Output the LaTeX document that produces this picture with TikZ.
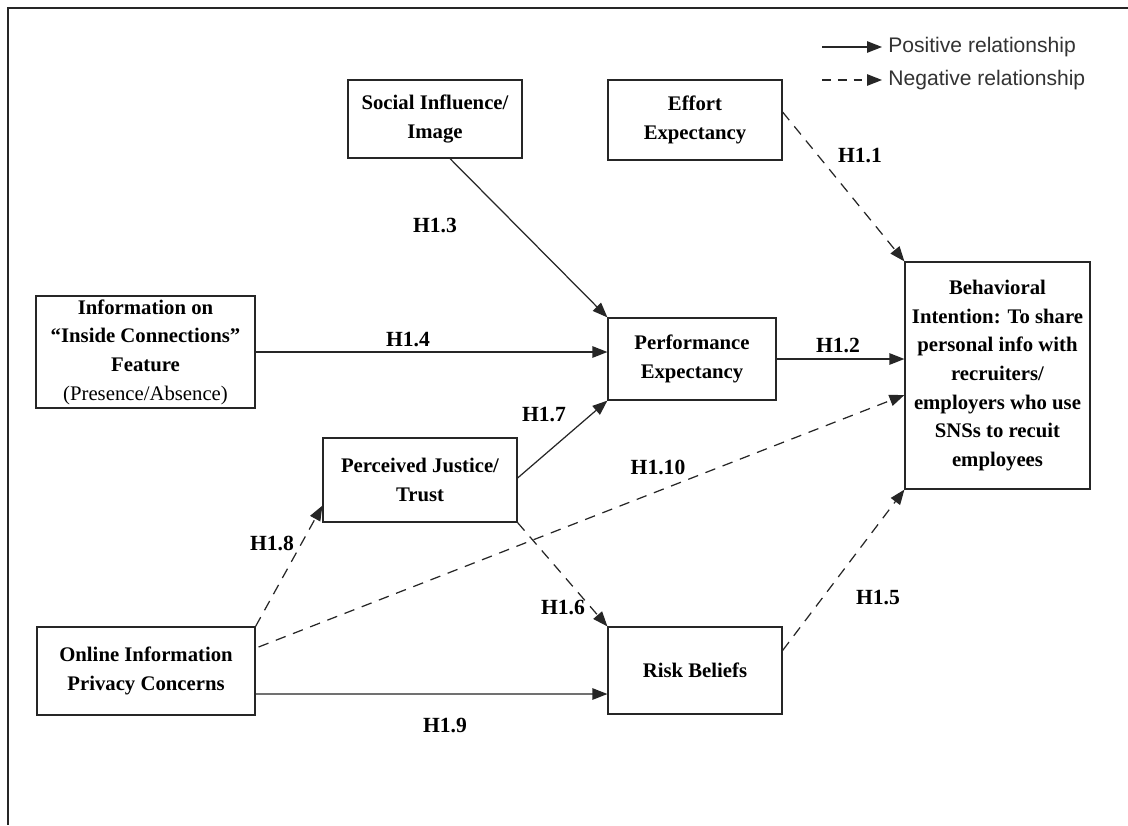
\documentclass[tikz,border=0pt]{standalone}
\usepackage{fontspec}
\setmainfont{Liberation Serif}
\setsansfont{Liberation Sans}
\usetikzlibrary{arrows.meta,calc}

\tikzset{
  stroke/.style={draw=black!85, line width=0.7pt},
  box/.style={stroke, align=center, inner sep=0pt,
    font=\bfseries\fontsize{11.8}{16.3}\selectfont},
  link/.style={stroke, -{Triangle[length=8.5pt,width=6.5pt]}},
  neglink/.style={link, dash pattern=on 6pt off 4.5pt},
  hyp/.style={font=\bfseries\fontsize{12.3}{14}\selectfont, inner sep=0pt},
  legendtext/.style={font=\sffamily\fontsize{12}{14}\selectfont, text=black!80, anchor=west, inner sep=0pt}
}

\begin{document}
\begin{tikzpicture}[x=0.02cm, y=-0.02cm]
  \useasboundingbox[fill=white] (0,0) rectangle (1128,825);

  % frame (top and left edges)
  \draw[stroke] (1128,8) -- (8,8) -- (8,825);

  % legend
  \coordinate (la) at (822,47);
  \coordinate (lb) at (882,47);
  \coordinate (lc) at (822,80);
  \coordinate (ld) at (882,80);
  \draw[link] (la) -- (lb);
  \draw[neglink, dash pattern=on 5pt off 4pt] (lc) -- (ld);
  \node[legendtext] (lpos) at (888,47) {Positive relationship};
  \node[legendtext] (lneg) at (888,80) {Negative relationship};

  % constructs
  \node[box, minimum width=3.48cm, minimum height=1.56cm] (social) at (435,119) {Social Influence/\\Image};
  \node[box, minimum width=3.48cm, minimum height=1.60cm] (effort) at (695,120) {Effort\\Expectancy};
  \node[box, minimum width=4.38cm, minimum height=2.24cm] (info) at (145.5,352) {Information on\\``Inside Connections''\\Feature\\\mdseries(Presence/Absence)};
  \node[box, minimum width=3.36cm, minimum height=1.64cm] (perf) at (692,359) {Performance\\Expectancy};
  \node[box, minimum width=3.70cm, minimum height=4.54cm] (behav) at (997.5,375.5) {Behavioral\\Intention: To share\\personal info with\\recruiters/\\employers who use\\SNSs to recuit\\employees};
  \node[box, minimum width=3.88cm, minimum height=1.68cm] (perc) at (420,480) {Perceived Justice/\\Trust};
  \node[box, minimum width=4.36cm, minimum height=1.76cm] (online) at (146,671) {Online Information\\Privacy Concerns};
  \node[box, minimum width=3.48cm, minimum height=1.74cm] (risk) at (695,670.5) {Risk Beliefs};

  % hypothesised paths
  \draw[neglink] ($(effort.east)+(0,-8)$) -- (behav.north west);
  \draw[link] ($(social.south)+(15,0)$) -- (perf.north west);
  \draw[link] (info.east) -- (info.east -| perf.west);
  \draw[link] (perf.east) -- (perf.east -| behav.west);
  \draw[link] ($(perc.east)+(0,-2)$) -- (perf.south west);
  \draw[neglink] ($(online.east)+(3,-24)$) -- ($(behav.west)+(0,19.5)$);
  \draw[neglink] (online.north east) -- ($(perc.south west)+(0,-17)$);
  \draw[neglink] (perc.south east) -- (risk.north west);
  \draw[link] ($(online.east)+(0,23)$) -- ($(risk.west)+(0,23.5)$);
  \draw[neglink] ($(risk.east)+(0,-20)$) -- (behav.south west);

  % hypothesis labels
  \node[hyp] (h11) at (860,156) {H1.1};
  \node[hyp] (h13) at (435,225) {H1.3};
  \node[hyp] (h14) at (408,340) {H1.4};
  \node[hyp] (h12) at (838,345) {H1.2};
  \node[hyp] (h17) at (544,415) {H1.7};
  \node[hyp] (h110) at (658,467) {H1.10};
  \node[hyp] (h18) at (272,543) {H1.8};
  \node[hyp] (h16) at (563,607) {H1.6};
  \node[hyp] (h19) at (445,725) {H1.9};
  \node[hyp] (h15) at (878,598) {H1.5};
\end{tikzpicture}
\end{document}
